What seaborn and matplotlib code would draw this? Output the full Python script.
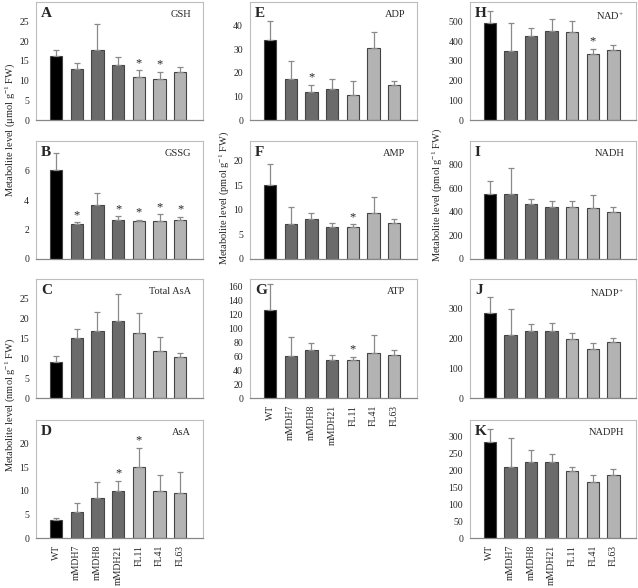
import matplotlib
matplotlib.use("Agg")
import matplotlib.pyplot as plt
import seaborn as sns
import numpy as np
import pandas as pd

# Linie roślin
lines = ["WT", "mMDH7", "mMDH8", "mMDH21", "FL11", "FL41", "FL63"]
colors = {"WT": "#000000", "mMDH7": "#6b6b6b", "mMDH8": "#6b6b6b", "mMDH21": "#6b6b6b",
          "FL11": "#b3b3b3", "FL41": "#b3b3b3", "FL63": "#b3b3b3"}

# Średnie i odchylenia
gsh = [16.3, 12.9, 17.9, 14.0, 10.9, 10.5, 12.1]
gsh_sd = [1.5, 1.6, 6.5, 2.1, 1.7, 1.8, 1.4]
gssg = [6.05, 2.35, 3.65, 2.65, 2.55, 2.6, 2.65]
gssg_sd = [1.15, 0.15, 0.85, 0.25, 0.1, 0.45, 0.2]
total_asa = [9.0, 15.1, 17.0, 19.4, 16.5, 11.8, 10.3]
total_asa_sd = [1.7, 2.3, 4.7, 6.8, 5.0, 3.6, 1.1]
asa = [3.8, 5.6, 8.5, 10.0, 15.0, 10.0, 9.6]
asa_sd = [0.5, 1.9, 3.4, 2.1, 4.1, 3.4, 4.4]
adp = [34, 17.5, 12, 13, 10.8, 30.5, 14.8]
adp_sd = [8, 7.5, 3, 4.5, 5.9, 6.8, 1.9]
amp = [15, 7.2, 8.1, 6.5, 6.5, 9.4, 7.4]
amp_sd = [4.3, 3.3, 1.3, 0.9, 0.6, 3.2, 0.8]
atp = [126, 60, 68, 54, 55, 65, 62]
atp_sd = [37, 27, 10, 8, 4, 25, 6]
nad = [492, 352, 425, 450, 445, 335, 355]
nad_sd = [60, 143, 43, 65, 58, 27, 28]
nadh = [555, 550, 468, 440, 437, 433, 400]
nadh_sd = [103, 225, 40, 50, 56, 110, 40]
nadp = [285, 213, 226, 226, 200, 166, 188]
nadp_sd = [55, 87, 22, 26, 20, 19, 14]
nadph = [285, 212, 226, 226, 200, 165, 188]
nadph_sd = [37, 85, 34, 24, 12, 23, 18]

# (litera, nazwa, średnie, sd, gwiazdki, ylim, yticks, kolumna, wiersz)
panels = [
    ("A", "GSH", gsh, gsh_sd, [4, 5], 30, np.arange(0, 26, 5), 0, 0),
    ("B", "GSSG", gssg, gssg_sd, [1, 3, 4, 5, 6], 8, np.arange(0, 7, 2), 0, 1),
    ("C", "Total AsA", total_asa, total_asa_sd, [], 30, np.arange(0, 26, 5), 0, 2),
    ("D", "AsA", asa, asa_sd, [3, 4], 25, np.arange(0, 21, 5), 0, 3),
    ("E", "ADP", adp, adp_sd, [2], 50, np.arange(0, 41, 10), 1, 0),
    ("F", "AMP", amp, amp_sd, [4], 24, np.arange(0, 21, 5), 1, 1),
    ("G", "ATP", atp, atp_sd, [4], 170, np.arange(0, 161, 20), 1, 2),
    ("H", "NAD$^{+}$", nad, nad_sd, [5], 600, np.arange(0, 501, 100), 2, 0),
    ("I", "NADH", nadh, nadh_sd, [], 1000, np.arange(0, 801, 200), 2, 1),
    ("J", "NADP$^{+}$", nadp, nadp_sd, [], 400, np.arange(0, 301, 100), 2, 2),
    ("K", "NADPH", nadph, nadph_sd, [], 350, np.arange(0, 301, 50), 2, 3),
]
last_row = {"D", "G", "K"}

sns.set_style("white")
plt.rcParams["font.family"] = ["Liberation Serif", "DejaVu Serif"]
plt.rcParams["mathtext.fontset"] = "custom"
plt.rcParams["mathtext.rm"] = "Liberation Serif"
plt.rcParams["mathtext.it"] = "Liberation Serif:italic"

W, H = 638, 588
fig = plt.figure(figsize=(W / 100, H / 100), dpi=100)

col_x = [(36, 203), (250, 417), (470, 636)]
row_y = [(2, 120), (141, 259), (279, 398), (420, 538)]

for letter, name, mean, sd, stars, ymax, yticks, c, r in panels:
    x0, x1 = col_x[c]
    y0, y1 = row_y[r]
    ax = fig.add_axes([x0 / W, 1 - y1 / H, (x1 - x0) / W, (y1 - y0) / H])
    df = pd.DataFrame({"line": lines, "value": mean})
    sns.barplot(data=df, x="line", y="value", hue="line", palette=colors, legend=False,
                width=0.6, edgecolor="#444444", linewidth=0.8, ax=ax)
    ax.errorbar(np.arange(7), mean, yerr=[np.zeros(7), sd], fmt="none",
                ecolor="#8a8a8a", elinewidth=0.9, capsize=2, capthick=0.9)
    for i in stars:
        ax.text(i, mean[i] + sd[i] + ymax * 0.01, "*", ha="center", va="bottom", fontsize=9)
    ax.set_ylim(0, ymax)
    ax.set_xlim(-0.97, 7.1)
    ax.set_yticks(yticks)
    ax.set_xlabel("")
    ax.set_ylabel("")
    ax.tick_params(axis="y", length=0, labelsize=7, pad=5)
    ax.tick_params(axis="x", length=3, width=1, color="black", direction="out",
                   labelsize=7, pad=2)
    ax.set_xticks(range(7))
    if letter in last_row:
        ax.set_xticklabels(lines, rotation=90)
    else:
        ax.set_xticklabels([])
    for s in ["top", "right", "left"]:
        ax.spines[s].set_color("#bdbdbd")
        ax.spines[s].set_linewidth(0.8)
    ax.spines["bottom"].set_color("#888888")
    ax.spines["bottom"].set_linewidth(0.9)
    ax.text(0.03, 0.96, letter, transform=ax.transAxes, ha="left", va="top",
            fontsize=11, fontweight="bold")
    ax.text(0.93, 0.93, name, transform=ax.transAxes, ha="right", va="top", fontsize=7.5)

# Etykiety osi Y
ylab_fs = 7.5
fig.text(10 / W, 1 - 130 / H, "Metabolite level (μmol g$^{-1}$ FW)", rotation=90,
         ha="center", va="center", fontsize=ylab_fs)
fig.text(10 / W, 1 - 405 / H, "Metabolite level (nmol g$^{-1}$ FW)", rotation=90,
         ha="center", va="center", fontsize=ylab_fs)
fig.text(224 / W, 1 - 198 / H, "Metabolite level (pmol g$^{-1}$ FW)", rotation=90,
         ha="center", va="center", fontsize=ylab_fs)
fig.text(437 / W, 1 - 195 / H, "Metabolite level (pmol g$^{-1}$ FW)", rotation=90,
         ha="center", va="center", fontsize=ylab_fs)

fig.savefig("out.png", dpi=100)
